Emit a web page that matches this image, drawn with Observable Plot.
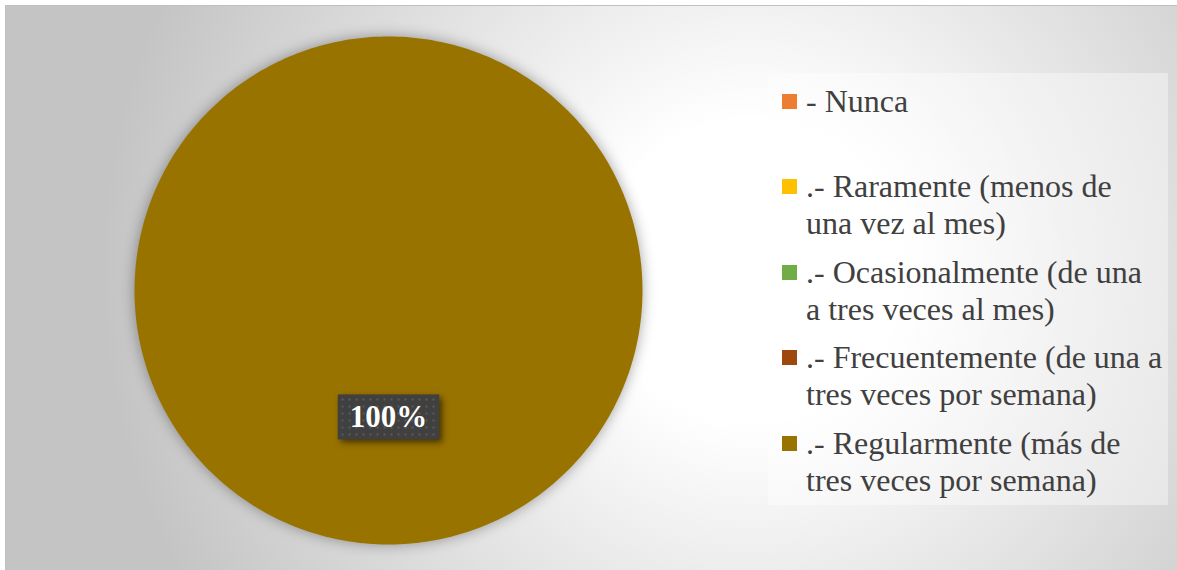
<!DOCTYPE html>
<html>
<head>
<meta charset="utf-8">
<script src="https://cdn.jsdelivr.net/npm/d3@7"></script>
<script src="https://cdn.jsdelivr.net/npm/@observablehq/plot@0.6"></script>
<style>
  html, body { margin: 0; padding: 0; background: #ffffff; width: 1177px; height: 570px; overflow: hidden; }
  #chart {
    position: absolute; left: 5px; top: 5px; width: 1174px; height: 567px;
    border: 1px solid #c0c0c0;
    background: radial-gradient(circle at 745px 265px, #ffffff 0px, #ffffff 150px, #e9e9e9 330px, #c4c4c4 650px);
    font-family: "Liberation Serif", "Times New Roman", serif;
  }
  #plot { position: absolute; left: 0; top: 0; }
  .pie-slices { filter: drop-shadow(0 0 7px rgba(0,0,0,0.35)); }
  #legend {
    position: absolute; left: 762px; top: 67px; width: 400px; height: 432px;
    background: rgba(255,255,255,0.38);
  }
  .item { position: absolute; left: 0; width: 400px; }
  .marker { position: absolute; left: 14px; width: 15px; height: 15px; top: 11px; }
  .lines { position: absolute; left: 38px; top: 0; font-size: 32px; line-height: 37px; color: #404040; white-space: nowrap; }
</style>
</head>
<body>
<div id="chart">
  <div id="plot"></div>
  <div id="legend"></div>
</div>
<script>
// ---- data ----
const categories = [
  "- Nunca",
  ".- Raramente (menos de una vez al mes)",
  ".- Ocasionalmente (de una a tres veces al mes)",
  ".- Frecuentemente (de una a tres veces por semana)",
  ".- Regularmente (más de tres veces por semana)"
];
const values = [0, 0, 0, 0, 100];
const colors = ["#ED7D31", "#FFC000", "#70AD47", "#9E480E", "#997300"];
const legendLines = [
  ["- Nunca"],
  [".- Raramente (menos de", "una vez al mes)"],
  [".- Ocasionalmente (de una", "a tres veces al mes)"],
  [".- Frecuentemente (de una a", "tres veces por semana)"],
  [".- Regularmente (más de", "tres veces por semana)"]
];
const labelText = ["", "", "", "", "100%"];

// ---- geometry from d3.pie ----
const total = d3.sum(values);
const arcs = d3.pie().sort(null).value(d => d)(values);
const slicePts = [];
const labels = [];
arcs.forEach((a, i) => {
  if (a.value <= 0) return;
  const full = (a.endAngle - a.startAngle) >= 2 * Math.PI - 1e-9;
  const steps = Math.max(2, Math.ceil((a.endAngle - a.startAngle) / (Math.PI / 180)));
  if (!full) slicePts.push({cat: categories[i], x: 0, y: 0});
  for (let k = 0; k <= steps; k++) {
    const t = a.startAngle + (a.endAngle - a.startAngle) * k / steps;
    slicePts.push({cat: categories[i], x: Math.sin(t), y: Math.cos(t)});
  }
  const mid = (a.startAngle + a.endAngle) / 2;
  labels.push({cat: categories[i], x: 0.5 * Math.sin(mid), y: 0.5 * Math.cos(mid),
               text: labelText[i] || d3.format(".0%")(a.value / total)});
});

// ---- plot ----
const W = 1172, H = 565;
const cx = 382, cy = 284, r = 254;
const plot = Plot.plot({
  width: W, height: H,
  margin: 0,
  style: {background: "transparent", overflow: "visible"},
  x: {domain: [-1, 1], range: [cx - r, cx + r], axis: null},
  y: {domain: [-1, 1], range: [cy + r, cy - r], axis: null},
  color: {domain: categories, range: colors},
  marks: [
    Plot.line(slicePts, {x: "x", y: "y", z: "cat", fill: "cat", stroke: "none",
      curve: "linear-closed", className: "pie-slices"}),
    Plot.text(labels, {x: "x", y: "y", text: "text", fill: "white", fontSize: 31,
      fontWeight: "bold", fontFamily: "Liberation Serif, Times New Roman, serif",
      className: "pie-label"})
  ]
});
document.getElementById("plot").appendChild(plot);

// label background box (pattern + shadow)
const svg = d3.select(plot);
const defs = svg.insert("defs", ":first-child");
const pat = defs.append("pattern").attr("id", "dots").attr("patternUnits", "userSpaceOnUse")
  .attr("width", 7).attr("height", 7);
pat.append("rect").attr("width", 7).attr("height", 7).attr("fill", "#404040");
pat.append("rect").attr("x", 2).attr("y", 2).attr("width", 2).attr("height", 2).attr("fill", "#5a5a5a");
svg.selectAll(".pie-label text").each(function() {
  const b = this.getBBox();
  const tr = this.getAttribute("transform");
  const rect = d3.select(this.parentNode).insert("rect", () => this)
    .attr("x", b.x - 12).attr("y", b.y - 5).attr("width", b.width + 24).attr("height", b.height + 10)
    .attr("fill", "url(#dots)")
    .style("filter", "drop-shadow(3px 3px 3px rgba(0,0,0,0.55))");
  if (tr) rect.attr("transform", tr);
});

// ---- legend ----
const legend = d3.select("#legend");
categories.forEach((c, i) => {
  const item = legend.append("div").attr("class", "item").style("top", (9.5 + 85.5 * i) + "px");
  item.append("div").attr("class", "marker").style("background", colors[i]);
  const lines = item.append("div").attr("class", "lines");
  legendLines[i].forEach(l => lines.append("div").text(l));
});
</script>
</body>
</html>
